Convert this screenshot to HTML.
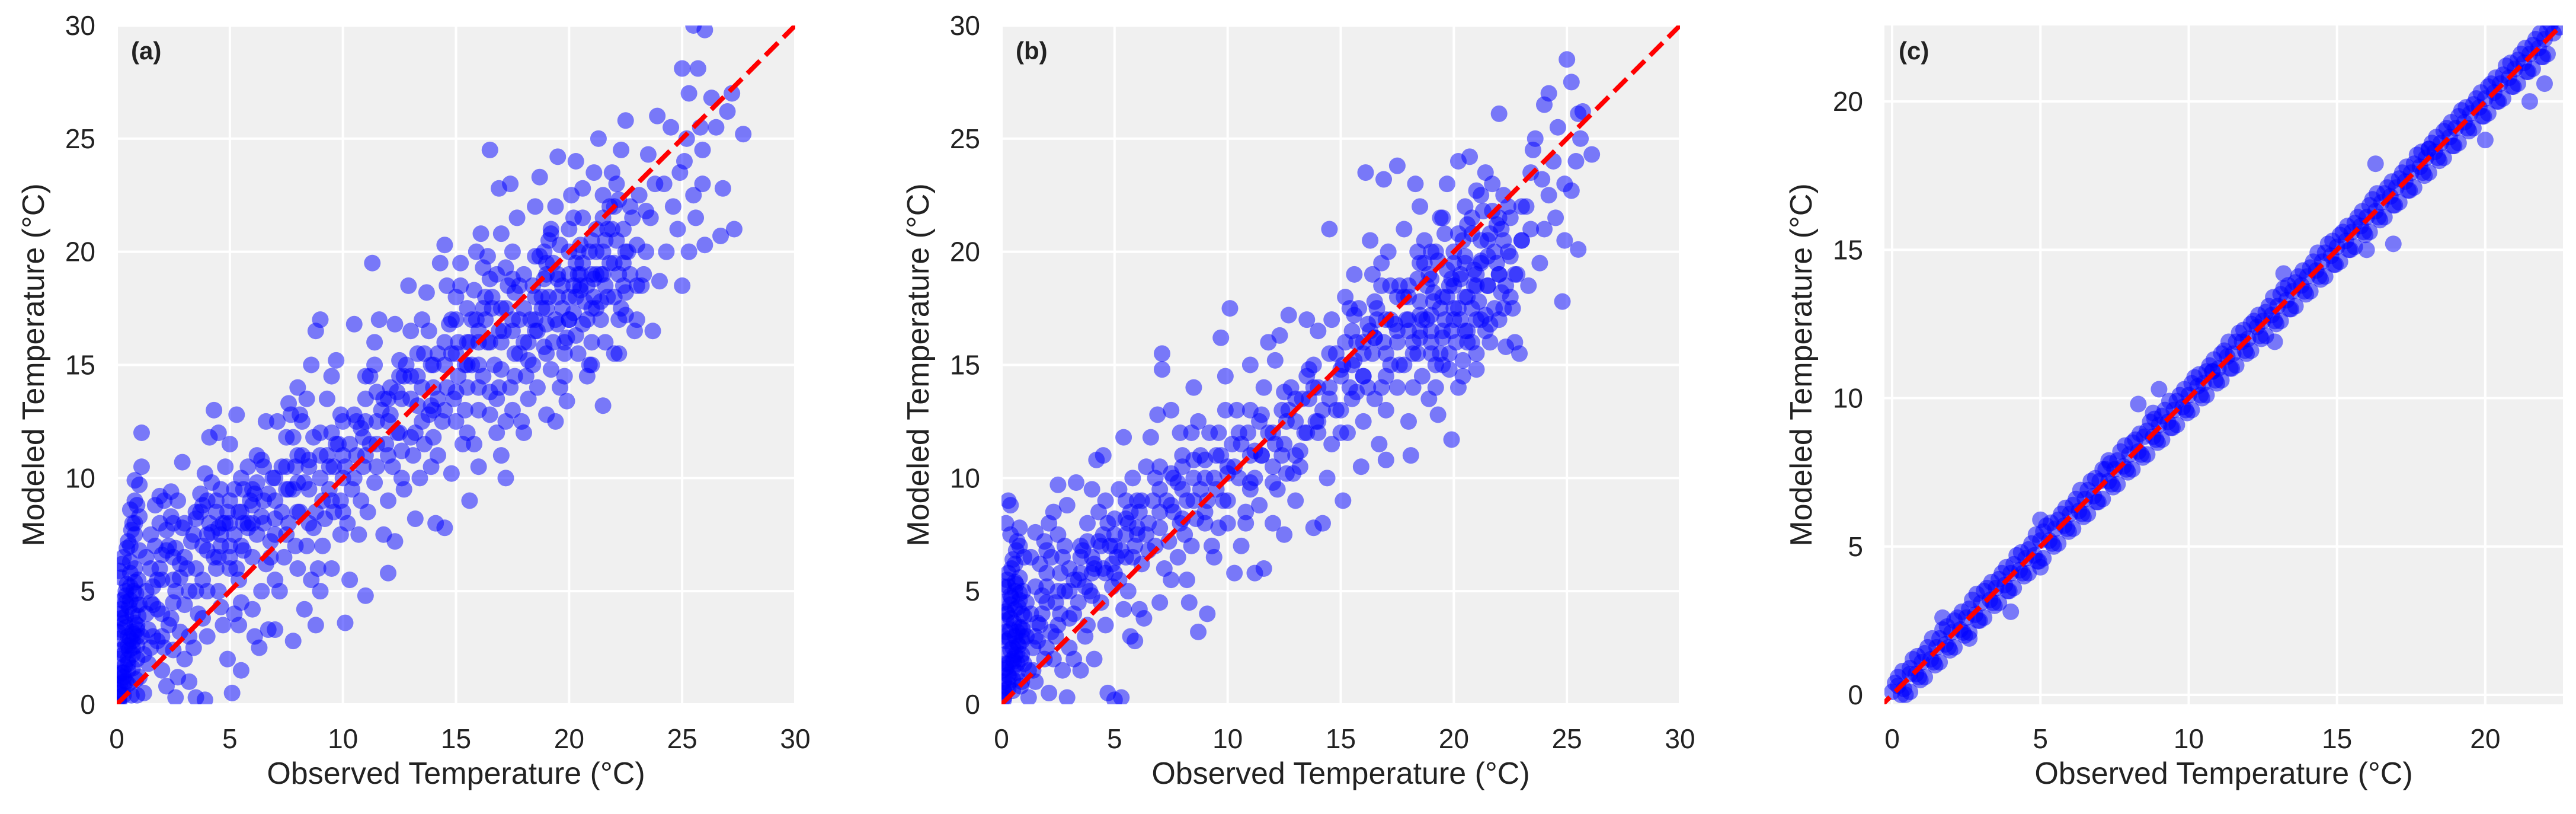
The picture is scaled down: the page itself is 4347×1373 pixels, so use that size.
<!DOCTYPE html>
<html><head><meta charset="utf-8"><style>
html,body{margin:0;padding:0;background:#fff;}
svg{display:block;font-family:"Liberation Sans",Arial,sans-serif;}
</style></head><body>
<svg id="fig" width="4347" height="1373" viewBox="0 0 4347 1373" xmlns="http://www.w3.org/2000/svg"></svg>
<script>
// ---------- Panel (a) data ----------
const obsA = [0.1,0.3,0.5,0.7,0.9,0.2,0.4,0.6,0.8,1.0, 0.1,0.3,0.5,0.7,0.9,0.2,0.4,0.6,0.8,1.0, 0.1,0.3,0.5,0.7,0.9,0.2,0.4,0.6,0.8,1.0, 0.1,0.3,0.5,0.7,0.9,0.2,0.4,0.6,0.8,1.1,
1.2,1.4,1.6,1.8,2.0,1.3,1.5,1.7,1.9,2.1, 2.2,2.4,2.6,2.8,2.3,2.5,2.7,2.9,1.1,2.0, 1.3,1.6,1.9,2.2,2.5,2.8,3.0,2.6,1.8,2.4,
3.2,3.4,3.6,3.8,4.0,4.2,4.4,4.6,4.8,5.0, 3.1,3.3,3.5,3.7,3.9,4.1,4.3,4.5,4.7,4.9, 5.2,5.4,5.6,5.8,6.0,6.2,6.4,6.6,5.1,5.5, 4.4,4.6,4.8,5.0,5.2,5.4,5.6,5.8,6.0,6.2, 6.4,6.6,6.8,7.0,6.5,6.9,3.8,4.2,5.3,6.1, 3.5,3.9,4.0,4.5,5.0,5.5,6.0,6.3,6.7,7.0,
7.2,7.4,7.6,7.8,8.0,8.2,8.4,8.6,8.8,9.0, 7.3,7.5,7.7,7.9,8.1,8.3,8.5,8.7,8.9,9.1, 9.2,9.4,9.6,9.8,10.0,9.3,9.5,9.7,9.9,10.1, 7.1,7.6,8.0,8.3,8.6,9.0,9.5,7.8,8.8,9.9,
10.2,10.4,10.6,10.8,11.0,11.2,11.4,11.6,11.3,10.5, 11.8,12.0,12.2,12.4,12.6,12.8,13.0,12.1,12.3,12.9, 13.2,13.4,13.6,13.8,14.0,13.3,13.5,13.7,13.9,14.1, 10.3,10.7,11.1,11.5,11.9,12.3,12.7,13.1,11.0,12.0, 10.1,10.9,11.7,12.5,13.3,13.9,11.4,12.6,14.5,14.8,
14.2,14.4,14.6,14.8,15.0,15.2,14.3,14.5,15.4,15.6, 15.8,16.0,16.2,16.4,16.6,16.8,15.9,16.1,16.5,16.9, 17.0,17.2,17.4,17.6,17.8,17.3,17.5,17.7,17.4,17.2, 15.1,15.5,15.9,16.3,16.7,17.1,14.7,15.3,16.0,17.9, 14.9,15.7,16.5,17.6,16.2,17.0,15.0,14.2,15.5,16.9,
18.0,18.2,18.4,18.6,18.8,19.0,19.2,18.5,18.7,19.5, 19.4,19.6,19.8,20.0,20.2,20.4,20.6,20.1,20.3,19.9, 20.8,21.0,21.2,21.4,21.6,21.8,21.1,21.3,21.5,20.9, 22.0,22.2,22.4,22.6,22.8,22.1,22.3,22.5,22.2,22.9, 18.3,18.9,19.3,19.7,20.5,21.0,21.7,22.4,19.1,20.7, 18.1,18.9,19.5,20.3,21.1,21.9,22.7,20.0,21.5,19.0, 23.0,23.2,23.4,23.6,23.8,23.5,23.9,23.7,23.1,23.3,
24.0,24.3,24.6,24.9,25.2,24.5,25.0,25.3,25.6,25.9, 25.0,25.7,25.5,26.0,25.3,25.8,26.5,26.3,27.0,27.2, 27.7,27.3,26.8,26.7,26.0,25.5,24.2,24.8,25.1,25.9];
const modA = [0.2,0.8,1.5,2.2,3.0,3.8,4.5,5.2,6.0,6.8, 0.5,1.2,2.0,2.8,3.5,4.2,5.0,5.8,7.5,8.3, 0.3,1.0,1.8,2.5,3.3,4.0,4.8,6.3,9.0,9.7, 0.6,1.4,2.6,3.2,4.4,2.4,3.4,7.0,8.0,12.0,
0.5,1.8,3.0,4.2,5.5,6.5,7.5,8.8,9.2,2.5, 0.8,3.8,5.0,6.2,7.0,8.0,9.0,10.7,10.5,1.5, 4.0,5.2,6.0,6.8,4.5,3.2,2.0,0.3,2.8,9.4,
1.0,2.5,4.0,5.5,6.8,7.6,8.5,9.5,10.5,11.5, 6.0,7.2,8.2,9.3,10.2,11.8,13.0,12.0,3.5,2.0, 4.0,5.5,6.8,7.8,8.8,9.8,10.8,12.5,0.5,1.5, 6.0,7.0,8.0,9.0,7.5,8.5,9.5,10.5,6.5,7.5, 5.0,6.2,7.2,8.2,9.0,10.0,8.8,9.8,12.8,3.0, 0.3,0.2,3.0,5.0,6.0,4.5,4.2,2.5,3.3,3.3,
5.0,6.5,8.0,9.5,11.0,12.5,13.5,15.0,16.5,17.0, 10.5,11.8,12.8,7.0,8.5,9.8,10.8,11.8,6.0,7.0, 8.2,9.5,10.5,11.5,12.5,13.5,14.5,15.2,7.5,3.6, 12.5,13.3,14.0,4.2,5.5,5.0,6.0,2.8,3.5,9.0,
8.0,9.5,11.0,12.2,13.5,14.5,16.0,17.0,19.5,16.8, 7.5,9.0,10.5,12.0,13.5,15.0,16.5,14.0,16.8,18.5, 8.2,10.0,11.5,12.8,14.0,15.5,17.0,18.2,10.5,8.0, 5.5,7.5,8.5,10.5,11.5,7.2,9.5,11.0,4.8,5.8, 10.5,11.8,13.0,14.5,13.2,15.0,15.0,11.2,7.8,10.2,
11.0,12.5,14.0,15.5,17.0,18.5,19.5,20.3,13.0,9.0, 11.5,13.0,14.5,16.0,17.5,19.0,20.0,20.8,24.5,22.8, 11.0,12.5,14.0,15.5,17.0,18.5,20.0,21.5,23.0,10.0, 14.5,16.0,17.0,18.0,15.0,16.5,16.8,11.5,10.5,12.5, 13.5,15.0,12.8,18.2,19.3,20.8,18.0,15.5,12.0,14.0,
12.0,13.5,15.0,16.5,18.0,19.5,21.0,22.0,23.3,24.2, 12.5,14.0,15.5,17.0,18.5,20.0,21.5,22.5,24.0,13.4, 14.5,16.0,17.5,19.0,20.5,22.0,23.5,25.0,13.2,15.0, 15.5,17.0,18.5,20.0,21.5,23.0,24.5,25.8,15.5,16.5, 17.0,18.8,16.0,17.5,19.0,20.5,18.0,19.5,20.5,17.8, 14.5,15.8,18.8,16.3,18.8,21.0,22.0,21.0,22.5,12.8, 17.0,18.5,20.0,21.5,23.0,24.3,26.0,16.5,22.5,19.0,
18.7,20.0,22.0,23.5,25.0,25.5,18.5,20.0,21.5,23.0, 28.1,28.1,30.0,29.8,27.0,25.5,25.5,26.8,26.2,27.0, 25.2,21.0,22.8,20.7,20.3,22.5,23.0,21.0,24.0,24.5];
const obsA2 = [0.15,0.35,0.55,0.75,0.95,0.25,0.45,0.65,0.85,0.05, 0.15,0.35,0.55,0.75,0.95,0.25,0.45,0.65,0.85,0.05, 0.6,0.8,0.4,0.9,0.2,0.7,0.3,0.5,0.9,0.1,
1.2,1.4,1.6,1.8,2.0,2.2,2.4,2.6,2.8,3.0, 1.1,1.3,1.5,1.7,1.9,2.1,2.3,2.5,2.7,2.9,
3.2,3.5,3.8,4.1,4.4,4.7,5.0,5.3,5.6,5.9, 3.4,3.7,4.0,4.3,4.6,4.9,5.2,5.5,5.8,6.1, 6.4,6.7,7.0,6.2,5.4,4.6,3.8,3.2,6.8,7.0,
7.3,7.6,7.9,8.2,8.5,8.8,9.1,9.4,9.7,10.0, 7.5,7.8,8.1,8.4,8.7,9.0,9.3,9.6,9.9,8.0,
10.3,10.6,10.9,11.2,11.5,11.8,12.1,12.4,12.7,13.0, 13.3,13.6,13.9,10.8,11.4,12.0,12.6,13.2,13.8,11.0,
14.2,14.5,14.8,15.1,15.4,15.7,16.0,16.3,16.6,16.9, 17.2,17.5,17.8,15.0,15.5,16.0,16.5,17.0,17.5,14.6, 15.2,15.8,16.4,17.2,17.8,14.0,16.8,18.0,15.6,16.2,
18.2,18.5,18.8,19.1,19.4,19.7,20.0,20.3,20.6,20.9, 21.2,21.5,21.8,22.1,22.4,22.7,18.4,18.7,19.0,19.3, 19.6,19.9,20.2,20.5,20.8,21.1,21.4,21.7,22.0,22.3, 18.6,19.2,19.8,20.4,21.0,21.6,22.2,20.6,19.4,21.9, 20.0,20.4,20.8,21.2,21.6,19.5,18.9,22.5,23.0,23.4];
const modA2 = [0.9,1.7,2.4,3.1,3.9,4.6,5.3,0.4,1.1,2.0, 2.9,3.6,4.3,5.0,5.5,6.2,6.9,7.7,4.9,3.2, 8.6,9.9,1.0,0.4,5.6,4.0,2.2,3.0,2.0,1.3,
2.2,3.3,4.4,5.5,6.6,7.7,8.3,6.9,5.6,4.4, 3.0,5.0,6.0,7.0,8.0,9.0,3.5,2.4,1.2,7.8,
5.0,6.0,7.0,8.0,9.0,8.0,7.0,6.0,8.0,9.0, 7.5,8.5,9.0,6.5,7.5,8.5,9.5,10.0,8.0,9.3, 8.3,9.3,10.0,11.0,3.5,4.3,3.8,3.0,6.5,5.5,
8.5,9.5,10.5,11.0,9.5,8.5,9.0,10.5,11.5,10.0, 7.5,11.8,12.8,7.0,7.8,12.0,11.0,8.5,12.8,6.0,
11.5,12.5,10.5,11.5,12.5,13.5,12.8,13.8,14.5,13.5, 14.5,15.5,13.2,9.0,9.8,11.0,10.0,12.0,16.5,14.5,
13.5,15.0,17.0,16.0,15.0,17.0,16.0,17.0,18.0,16.5, 17.5,16.5,18.5,12.5,14.0,15.0,13.8,14.8,13.0,18.5, 19.5,18.3,19.8,19.3,15.5,11.8,12.0,16.0,16.0,17.5,
16.0,17.0,17.5,18.0,17.0,18.5,19.0,18.0,19.5,20.0, 19.0,20.0,19.5,20.5,21.0,19.0,18.5,19.8,16.8,19.5, 20.3,16.2,17.3,18.3,17.0,18.0,17.0,21.0,18.0,17.5, 14.0,14.8,14.5,15.5,15.0,16.0,22.3,22.8,22.0,23.5, 18.0,19.0,18.5,21.0,18.5,19.0,20.0,18.2,20.3,21.8];
const obsA3 = [0.1,0.3,0.5,0.7,0.9,0.2,0.4,0.6,0.8,0.1, 0.3,0.5,0.7,0.9,0.2,0.4,0.6,0.8,1.0,1.0,
1.5,2.0,2.5,3.0,3.5,4.0,4.5,5.0,5.5,6.0, 1.5,2.0,2.5,3.0,3.5,4.0,4.5,5.0,5.5,6.0,
6.5,7.0,7.5,8.0,8.5,9.0,9.5,10.0,10.5,11.0, 6.5,7.0,7.5,8.0,8.5,9.0,9.5,10.0,10.5,11.0,
11.5,12.0,12.5,13.0,13.5,14.0,14.5,15.0,15.5,16.0, 11.5,12.0,12.5,13.0,13.5,14.0,14.5,15.0,15.5,16.0,
16.5,17.0,17.5,18.0,18.5,19.0,19.5,20.0,20.5,21.0, 16.5,17.0,17.5,18.0,18.5,19.0,19.5,20.0,20.5,21.0,
21.5,22.0,22.5,23.0,21.5,22.0,22.5,21.2,20.2,19.2, 18.2,19.0,19.8,20.6,21.4,22.2,17.6,16.8,18.5,20.3];
const modA3 = [0.0,0.4,0.9,1.6,2.6,3.3,3.9,4.6,5.4,5.9, 6.5,7.2,8.0,8.8,1.4,2.6,2.9,3.6,4.4,1.2,
2.5,4.0,5.5,6.5,5.0,7.5,6.5,8.0,7.0,8.0, 4.5,3.0,6.5,8.0,8.5,5.0,7.8,6.5,8.5,9.5,
8.0,9.0,9.5,8.5,10.5,10.0,9.0,11.0,10.0,11.0, 10.5,7.5,10.5,9.8,8.0,11.0,12.0,8.5,12.8,12.5,
11.5,12.5,12.0,14.5,12.5,15.0,13.0,15.5,15.0,16.5, 13.8,13.5,15.2,11.8,14.0,13.0,16.0,13.8,17.5,14.0,
16.0,17.5,17.0,17.5,16.5,17.5,18.0,17.0,18.5,19.0, 18.8,16.0,18.8,19.0,18.0,19.0,16.8,20.0,20.3,17.5,
19.0,19.5,20.0,18.5,21.5,22.0,17.2,20.0,21.5,20.8, 15.2,15.5,16.0,16.8,17.8,19.0,14.5,13.5,19.8,19.5];

// ---------- Panel (b) data ----------
const obsB = [0.1,0.3,0.5,0.7,0.9,0.2,0.4,0.6,0.8,1.0, 0.1,0.3,0.5,0.7,0.9,0.2,0.4,0.6,0.8,0.4, 0.1,0.3,0.5,0.7,0.9,0.2,0.4,0.6,0.8,0.3,
1.2,1.4,1.6,1.8,2.0,1.3,1.5,1.7,1.9,2.1, 2.2,2.4,2.6,2.8,2.3,2.5,2.7,2.9,1.1,2.0,
3.0,3.2,3.4,3.6,3.8,4.0,4.2,3.3,3.5,3.7, 4.4,4.6,4.8,5.0,5.2,5.4,4.5,4.7,5.0,5.3, 5.6,5.8,6.0,6.2,6.4,6.6,5.7,5.9,6.1,6.3, 4.1,4.3,4.9,5.1,5.5,5.7,3.9,4.1,6.8,6.9, 7.0,7.2,7.4,7.6,7.8,8.0,7.1,7.1,7.5,7.9,
8.2,8.4,8.6,8.8,9.0,9.2,8.5,8.7,9.1,8.3, 9.4,9.6,9.8,10.0,10.2,10.4,9.7,10.1,9.9,10.3, 10.6,10.8,11.0,11.2,11.4,11.6,11.8,11.2,11.6,11.0, 12.0,12.2,12.4,12.6,12.8,12.3,12.7,12.5,12.1,12.9,
13.0,13.2,13.4,13.6,13.8,14.0,13.5,14.2,13.8,14.5, 14.4,14.6,14.8,15.0,15.2,15.4,15.6,15.1,15.9,15.6, 16.0,16.2,16.4,16.6,16.8,16.3,16.1,16.9,17.1,16.7, 15.3,15.7,16.5,17.0,17.2,17.4,17.6,17.8,17.5,17.0,
18.0,18.2,18.4,18.6,18.8,19.0,18.3,18.5,18.1,18.9, 19.2,19.4,19.6,19.8,20.0,19.5,19.7,19.9,19.3,20.2, 20.4,20.6,20.8,21.0,21.2,20.5,20.7,21.4,20.2,21.0, 21.6,21.8,22.0,22.2,22.4,21.7,22.0,22.6,22.3,21.9, 18.5,19.1,19.7,20.3,20.9,21.5,19.0,20.5,21.2,18.0, 19.5,20.1,20.8,21.3,22.1,18.7,17.9,18.4,19.9,21.0,
22.8,23.0,23.2,23.4,23.6,23.3,23.8,22.9,22.7,23.5, 24.0,24.2,24.4,24.6,24.0,24.2,24.8,24.9,25.2,24.5, 25.0,25.2,25.5,25.7,25.6,26.1,25.5,25.4,24.9,23.9];
const modB = [0.2,0.9,1.6,2.3,3.0,3.7,4.4,5.0,5.6,6.5, 0.6,1.3,2.0,2.7,3.4,4.1,4.8,5.4,7.0,8.8, 1.0,1.8,2.5,3.2,4.0,2.8,3.3,6.2,7.8,9.0,
0.3,1.5,2.8,4.0,5.2,6.5,7.6,3.5,2.0,0.5, 3.2,4.5,5.8,7.0,8.5,9.7,1.5,0.3,4.5,6.8,
2.5,4.0,5.5,6.8,8.0,9.5,10.8,9.8,1.5,3.0, 4.5,5.8,7.0,8.2,9.5,11.8,11.0,0.5,0.2,0.3, 5.0,6.5,7.8,9.0,10.5,11.8,3.0,2.8,4.2,3.8, 6.2,7.2,5.2,6.5,7.5,8.5,5.0,2.0,10.0,12.8, 4.5,6.0,7.2,8.5,9.8,11.0,15.5,14.8,13.0,12.0,
5.5,7.0,8.2,9.5,10.8,12.0,14.0,3.2,4.0,4.5, 6.5,7.8,9.0,10.2,11.5,13.0,16.2,17.5,14.5,5.8, 7.0,8.5,9.8,11.2,12.5,14.0,16.0,5.8,6.0,15.0, 8.0,9.5,11.0,12.5,14.0,16.3,17.2,7.5,15.2,10.2,
9.0,10.5,12.0,13.5,15.0,16.5,17.0,8.0,7.8,21.0, 10.0,11.5,13.0,14.5,16.0,17.5,19.0,9.0,10.5,17.2, 12.5,14.0,15.5,17.0,18.5,20.5,23.5,23.2,20.0,11.5, 12.0,13.8,16.2,13.0,15.0,16.8,18.5,21.0,23.8,10.8,
12.5,14.0,15.5,17.0,18.5,20.0,23.0,22.0,11.0,13.5, 14.0,15.5,17.0,18.5,20.0,21.5,23.0,11.7,12.8,24.0, 14.5,16.0,17.5,19.0,20.5,22.0,24.2,23.5,14.0,15.5, 16.0,17.5,19.0,20.5,22.0,23.0,26.1,17.5,15.8,21.2, 16.2,17.8,19.2,17.0,18.5,19.8,16.5,19.5,17.0,18.0, 15.0,16.0,20.8,21.8,18.2,19.5,17.0,20.0,18.8,22.7,
19.0,20.5,22.0,23.5,25.0,18.5,19.5,15.5,16.0,24.5, 21.0,22.5,24.0,25.5,26.5,27.0,17.8,20.5,22.7,21.5, 28.5,27.5,26.1,26.2,25.0,24.3,20.1,24.0,23.0,23.2];
const obsB2 = [0.15,0.35,0.55,0.75,0.95,0.25,0.45,0.65,0.85,0.05, 0.15,0.35,0.55,0.75,0.95,0.25,0.45,0.65,0.85,0.05, 0.1,0.3,0.5,0.7,0.9,0.2,0.6,0.8,0.4,0.2,
1.2,1.4,1.6,1.8,2.0,2.2,2.4,2.6,2.8,3.0, 1.1,1.3,1.5,1.7,1.9,2.1,2.3,2.5,2.7,2.9,
3.2,3.5,3.8,4.1,4.4,4.7,5.0,5.3,5.6,5.9, 3.4,3.7,4.0,4.3,4.6,4.9,5.2,5.5,5.8,6.1, 6.4,6.7,7.0,6.2,5.4,4.6,3.8,3.2,6.8,7.0,
7.3,7.6,7.9,8.2,8.5,8.8,9.1,9.4,9.7,10.0, 7.5,7.8,8.1,8.4,8.7,9.0,9.3,9.6,9.9,8.0,
10.3,10.6,10.9,11.2,11.5,11.8,12.1,12.4,12.7,13.0, 13.3,13.6,13.9,10.8,11.4,12.0,12.6,13.2,13.8,11.0,
14.2,14.5,14.8,15.1,15.4,15.7,16.0,16.3,16.6,16.9, 17.2,17.5,17.8,15.0,15.5,16.0,16.5,17.0,17.5,14.6, 15.2,15.8,16.4,17.2,17.8,14.0,16.8,18.0,15.6,16.2,
18.2,18.5,18.8,19.1,19.4,19.7,20.0,20.3,20.6,20.9, 21.2,21.5,21.8,22.1,22.4,22.7,18.4,18.7,19.0,19.3, 19.6,19.9,20.2,20.5,20.8,21.1,21.4,21.7,22.0,22.3, 18.6,19.2,19.8,20.4,21.0,21.6,22.2,20.6,19.4,21.9, 20.0,20.4,20.8,21.2,21.6,19.5,18.9,22.5,23.0,23.4];
const modB2 = [0.5,1.2,1.9,2.6,3.3,4.0,4.7,5.3,0.8,1.5, 2.2,2.9,3.6,4.3,5.0,5.5,6.0,6.8,2.0,3.0, 4.5,5.2,0.6,1.4,2.2,1.8,3.0,4.6,7.5,8.0,
1.5,2.5,3.6,4.8,5.8,6.5,3.0,4.0,5.0,6.0, 3.0,4.0,5.2,6.2,7.2,8.0,2.0,7.5,6.5,8.8,
5.5,6.5,7.2,6.0,7.0,8.0,7.5,6.8,8.0,7.0, 4.5,5.2,5.8,8.5,9.0,6.2,5.5,9.0,10.0,8.5, 7.5,9.0,8.5,6.2,4.2,3.5,3.5,2.0,7.0,10.5,
9.0,10.0,8.0,9.0,10.0,11.0,9.0,10.0,11.0,9.0, 5.5,6.5,7.5,12.0,12.5,8.0,7.0,12.0,13.0,10.5,
10.5,11.5,12.0,10.0,11.0,12.0,11.5,13.0,13.0,12.5, 13.5,14.8,12.5,8.0,8.8,9.8,10.2,11.2,14.0,13.0,
13.0,14.0,15.5,15.0,14.0,16.0,15.5,16.5,17.5,16.0, 17.0,16.0,18.0,12.0,13.5,14.5,13.5,14.5,14.0,17.0, 18.0,17.5,19.0,18.5,15.0,12.0,19.5,16.5,15.2,16.8,
16.0,17.2,17.0,18.2,17.5,18.0,18.5,19.0,18.0,19.2, 19.5,18.5,20.0,21.0,20.0,19.0,18.8,20.5,15.5,19.6, 20.8,16.5,17.5,16.5,16.0,17.8,16.5,21.8,17.0,18.5, 14.5,15.0,14.8,15.2,14.8,16.8,22.5,21.2,21.5,19.5, 17.5,20.5,21.5,22.5,20.8,16.2,19.0,21.5,22.0,21.0];
const obsB3 = [0.1,0.3,0.5,0.7,0.9,0.2,0.4,0.6,0.8,0.1, 0.3,0.5,0.7,0.9,0.2,0.4,0.6,0.8,1.0,1.0,
1.5,2.0,2.5,3.0,3.5,4.0,4.5,5.0,5.5,6.0, 1.5,2.0,2.5,3.0,3.5,4.0,4.5,5.0,5.5,6.0,
6.5,7.0,7.5,8.0,8.5,9.0,9.5,10.0,10.5,11.0, 6.5,7.0,7.5,8.0,8.5,9.0,9.5,10.0,10.5,11.0,
11.5,12.0,12.5,13.0,13.5,14.0,14.5,15.0,15.5,16.0, 11.5,12.0,12.5,13.0,13.5,14.0,14.5,15.0,15.5,16.0,
16.5,17.0,17.5,18.0,18.5,19.0,19.5,20.0,20.5,21.0, 16.5,17.0,17.5,18.0,18.5,19.0,19.5,20.0,20.5,21.0,
21.5,22.0,22.5,23.0,21.5,22.0,22.5,21.2,20.2,19.2, 18.2,19.0,19.8,20.6,21.4,22.2,17.6,16.8,18.5,20.3];
const modB3 = [0.3,0.7,1.1,1.8,2.8,3.2,3.8,4.2,4.9,5.2, 5.8,6.4,7.2,1.0,1.6,2.4,2.2,3.4,3.9,1.8,
1.0,2.5,3.5,5.0,5.8,6.5,6.0,7.0,6.5,7.5, 3.0,4.5,5.0,3.8,7.0,4.8,7.5,5.8,8.2,9.0,
8.0,7.8,8.8,9.5,9.0,10.0,9.5,10.5,10.0,11.0, 6.8,9.5,10.2,8.2,10.8,8.5,11.0,8.0,12.0,9.5,
11.0,12.0,11.5,13.5,12.0,14.0,13.5,14.8,15.0,16.0, 12.8,10.5,13.8,11.0,14.5,12.5,15.5,13.0,16.5,14.5,
16.2,17.0,16.5,17.0,16.5,17.2,18.0,17.0,18.0,18.5, 17.8,15.5,18.0,18.5,17.8,18.8,16.5,19.5,19.8,17.0,
18.5,19.0,19.8,20.5,20.5,21.5,18.0,19.6,20.8,20.0, 15.5,16.0,15.5,16.5,17.2,17.5,15.0,14.0,19.5,18.8];

// ---------- Panel (c) data ----------
const obsC = [0.0,0.2,0.4,0.6,0.8,1.0,1.3,1.5,1.8,2.0,2.3,2.5,2.8,3.0,3.3,3.5,3.8,4.0,4.3,4.5,4.8,5.0,5.3,5.5,5.8,6.0,6.3,6.5,6.8,7.0,7.3,7.5,7.8,8.0,8.3,8.5,8.8,9.0,9.3,9.5,9.8,10.0,10.3,10.5,10.8,11.0,11.3,11.5,11.8,12.0,12.3,12.5,12.8,13.0,13.3,13.5,13.8,14.0,14.3,14.5,14.8,15.0,15.3,15.5,15.8,16.0,16.3,16.5,16.8,17.0,17.3,17.5,17.8,18.0,18.3,18.5,18.8,19.0,19.3,19.5,19.8,20.0,20.3,20.5,20.8,21.0,21.3,21.5,21.8,22.0,22.3,22.5,
0.3,0.9,1.4,1.9,2.4,2.9,3.4,3.9,4.4,4.9,5.4,5.9,6.4,6.9,7.4,7.9,8.4,8.9,9.4,9.9,10.4,10.9,11.4,11.9,12.4,12.9,13.4,13.9,14.4,14.9,15.4,15.9,16.4,16.9,17.4,17.9,18.4,18.9,19.4,19.9,20.4,20.9,21.4,21.9,
0.1,0.6,1.1,1.6,2.1,2.6,3.1,3.6,4.1,4.6,5.1,5.6,6.1,6.6,7.1,7.6,8.1,8.6,9.1,9.6,10.1,10.6,11.1,11.6,12.1,12.6,13.1,13.6,14.1,14.6,15.1,15.6,16.1,16.6,17.1,17.6,18.1,18.6,19.1,19.6,20.1,20.6,21.1,21.6,22.1,
8.3,9.0,12.9,16.3,16.9,16.0,20.0,22.0,4.0,1.7,5.0,5.0,2.6,8.8,13.2,21.5,7.3,10.8,18.1];
const modC = [0.1,0.3,0.2,0.7,0.7,1.1,1.2,1.6,1.7,2.1,2.2,2.6,2.7,3.1,3.2,3.6,3.7,4.1,4.2,4.6,4.7,5.2,5.2,5.6,5.7,6.1,6.2,6.6,6.7,7.2,7.2,7.6,7.7,8.1,8.2,8.7,8.7,9.1,9.2,9.6,9.7,10.1,10.4,10.5,10.9,11.0,11.4,11.5,11.9,12.0,12.4,12.6,12.8,13.1,13.3,13.6,13.8,14.1,14.3,14.6,14.8,15.1,15.3,15.6,15.8,16.1,16.3,16.6,16.8,17.1,17.3,17.6,17.8,18.1,18.3,18.6,18.8,19.1,19.3,19.6,19.8,20.1,20.3,20.6,20.8,21.1,21.3,21.6,21.8,22.1,22.3,22.5,
0.0,0.6,1.1,1.6,2.1,2.5,3.1,3.5,4.1,4.5,5.1,5.6,6.1,6.5,7.1,7.6,8.1,8.6,9.0,9.6,10.1,10.6,11.0,11.6,12.1,12.6,13.0,13.6,14.1,14.5,15.0,15.6,16.1,16.5,17.0,17.6,18.1,18.5,19.1,19.5,20.0,20.5,21.0,21.5,
0.4,0.9,1.4,1.9,2.5,2.9,3.5,3.9,4.4,4.9,5.5,5.9,6.4,6.9,7.6,7.9,8.5,8.9,9.4,9.9,10.5,10.9,11.5,11.9,12.5,12.9,13.5,13.9,14.4,14.9,15.5,15.9,16.5,16.9,17.4,17.9,18.4,19.0,19.5,19.9,20.5,20.9,21.4,21.9,22.4,
9.8,10.3,11.9,17.9,15.2,15.0,18.7,20.6,2.8,2.6,5.9,4.3,1.9,9.5,14.2,20.0,7.9,10.9,18.4];
const obsC2 = [0.2,0.7,1.2,1.7,2.2,2.7,3.2,3.7,4.2,4.7,5.2,5.7,6.2,6.7,7.2,7.7,8.2,8.7,9.2,9.7,10.2,10.7,11.2,11.7,12.2,12.7,13.2,13.7,14.2,14.7,15.2,15.7,16.2,16.7,17.2,17.7,18.2,18.7,19.2,19.7,20.2,20.7,21.2,21.7,22.2,
0.45,0.95,1.45,1.95,2.45,2.95,3.45,3.95,4.45,4.95,5.45,5.95,6.45,6.95,7.45,7.95,8.45,8.95,9.45,9.95,10.45,10.95,11.45,11.95,12.45,12.95,13.45,13.95,14.45,14.95,15.45,15.95,16.45,16.95,17.45,17.95,18.45,18.95,19.45,19.95,20.45,20.95,21.45,21.95];
const modC2 = [0.6,1.2,1.6,2.2,2.6,3.2,3.6,4.1,4.7,5.1,5.7,6.1,6.6,7.2,7.6,8.2,8.6,9.2,9.6,10.1,10.7,11.1,11.6,12.2,12.6,13.1,13.7,14.1,14.6,15.2,15.6,16.1,16.7,17.1,17.6,18.2,18.6,19.1,19.7,20.1,20.6,21.2,21.6,22.1,22.6,
0.0,0.5,1.0,1.5,2.0,2.5,3.0,3.5,4.0,4.5,5.0,5.5,6.0,6.5,7.0,7.5,8.0,8.5,9.0,9.5,10.0,10.5,11.0,11.5,12.0,12.5,13.0,13.5,14.0,14.5,15.0,15.5,16.0,16.5,17.0,17.5,18.0,18.5,19.0,19.5,20.0,20.5,21.0,21.5];
const obsC3 = [0.35,0.85,1.35,1.85,2.35,2.85,3.35,3.85,4.35,4.85,5.35,5.85,6.35,6.85,7.35,7.85,8.35,8.85,9.35,9.85,10.35,10.85,11.35,11.85,12.35,12.85,13.35,13.85,14.35,14.85,15.35,15.85,16.35,16.85,17.35,17.85,18.35,18.85,19.35,19.85,20.35,20.85,21.35,21.85,22.35,
0.6,1.1,1.6,2.1,2.6,3.1,3.6,4.1,4.6,5.1,5.6,6.1,6.6,7.1,7.6,8.1,8.6,9.1,9.6,10.1,10.6,11.1,11.6,12.1,12.6,13.1,13.6,14.1,14.6,15.1,15.6,16.1,16.6,17.1,17.6,18.1,18.6,19.1,19.6,20.1,20.6,21.1,21.6,22.1];
const modC3 = [0.8,1.3,1.9,2.3,2.8,3.4,3.8,4.3,4.8,5.4,5.8,6.3,6.9,7.3,7.8,8.4,8.8,9.3,9.9,10.3,10.8,11.3,11.9,12.3,12.8,13.4,13.8,14.3,14.9,15.3,15.8,16.3,16.9,17.3,17.8,18.3,18.8,19.3,19.8,20.3,20.8,21.3,21.8,22.3,22.8,
0.1,0.6,1.1,1.6,2.1,2.6,3.1,3.6,4.1,4.6,5.1,5.6,6.1,6.6,7.1,7.6,8.1,8.6,9.1,9.6,10.1,10.6,11.1,11.6,12.1,12.6,13.1,13.6,14.1,14.6,15.1,15.6,16.1,16.6,17.1,17.6,18.1,18.6,19.1,19.6,20.1,20.6,21.1,21.6];

const ticksAB = [0,5,10,15,20,25,30];
const ticksC = [0,5,10,15,20];
const panelLabels = ["(a)","(b)","(c)"];

const NS = "http://www.w3.org/2000/svg";
const svg = document.getElementById("fig");
function mk(tag, attrs, parent){
  const e = document.createElementNS(NS, tag);
  for (const k in attrs) e.setAttribute(k, attrs[k]);
  (parent||svg).appendChild(e);
  return e;
}

function drawPanel(idx, left, top, size, xmin, xmax, ymin, ymax, ticks, obs, mod, lmin, lmax){
  const sx = v => left + (v - xmin) / (xmax - xmin) * size;
  const sy = v => top + size - (v - ymin) / (ymax - ymin) * size;
  const g = mk("g", {});
  
  
  const bg = mk("rect", {x:left, y:top, width:size, height:size, fill:"#f0f0f0"}, g);
  
  
  const cp = mk("clipPath", {id:"clip"+idx}, g);
  mk("rect", {x:left, y:top, width:size, height:size}, cp);
  ticks.forEach(t => {
    const gx = mk("line", {x1:sx(t), x2:sx(t), y1:top, y2:top+size, stroke:"#fff", "stroke-width":4, "clip-path":"url(#clip"+idx+")"}, g);
    
    
    const gy = mk("line", {x1:left, x2:left+size, y1:sy(t), y2:sy(t), stroke:"#fff", "stroke-width":4, "clip-path":"url(#clip"+idx+")"}, g);
    
    
    const xl = mk("text", {x:sx(t), y:1262, "text-anchor":"middle", "font-size":46, fill:"#222"}, g);
    xl.textContent = t;
    
    
    const yl = mk("text", {x:left-36, y:sy(t)+16, "text-anchor":"end", "font-size":46, fill:"#222"}, g);
    yl.textContent = t;
    
    
  });
  const pg = mk("g", {"clip-path":"url(#clip"+idx+")"}, g);
  
  
  for (let i = 0; i < obs.length; i++){
    const c = mk("circle", {cx:sx(obs[i]), cy:sy(mod[i]), r:14, fill:"rgba(0,0,255,0.5)"}, pg);
    
    
  }
  const ln = mk("line", {x1:sx(lmin), y1:sy(lmin), x2:sx(lmax), y2:sy(lmax), stroke:"#ff0000", "stroke-width":8, "stroke-dasharray":"30 13", "clip-path":"url(#clip"+idx+")"}, g);
  
  
  const pl = mk("text", {x:left+24, y:100, "font-size":42, "font-weight":"bold", fill:"#222"}, g);
  pl.textContent = panelLabels[idx];
  
  
  const xt = mk("text", {x:left+size/2, y:1322, "text-anchor":"middle", "font-size":52, fill:"#222"}, g);
  xt.textContent = "Observed Temperature (°C)";
  
  
  const cy = top + size/2, cx = left - 140;
  const yt = mk("text", {x:cx, y:cy, "text-anchor":"middle", "dominant-baseline":"central", "font-size":52, fill:"#222", transform:"rotate(-90 "+cx+" "+cy+")"}, g);
  yt.textContent = "Modeled Temperature (°C)";
  
  
}

drawPanel(0, 197, 43, 1145, 0, 30, 0, 30, ticksAB, obsA.concat(obsA2, obsA3), modA.concat(modA2, modA3), 0, 30);
drawPanel(1, 1690, 43, 1145, 0, 30, 0, 30, ticksAB, obsB.concat(obsB2, obsB3), modB.concat(modB2, modB3), 0, 30);
drawPanel(2, 3180, 43, 1145, -0.26, 22.62, -0.32, 22.56, ticksC, obsC.concat(obsC2, obsC3), modC.concat(modC2, modC3), -0.5, 23);
</script>
</body></html>
